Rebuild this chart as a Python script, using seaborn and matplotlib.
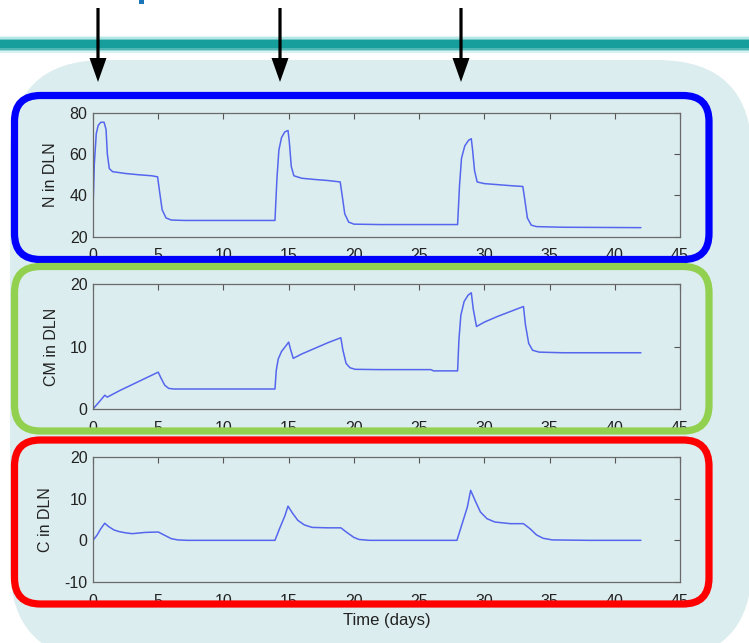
import numpy as np
import pandas as pd
import matplotlib
matplotlib.use("Agg")
import matplotlib.pyplot as plt
from matplotlib.patches import FancyBboxPatch, Rectangle, FancyArrow
import seaborn as sns

# ---------------- data ----------------
t_n = [0, 0.1, 0.25, 0.4, 0.6, 0.85, 1.0, 1.1, 1.25, 1.5, 2.5, 3.5, 4.5, 4.95, 5.1, 5.3,
       5.6, 6.0, 7, 10, 13.95, 14.1, 14.25, 14.45, 14.7, 14.95, 15.05, 15.2, 15.4, 16, 17,
       18, 18.95, 19.1, 19.3, 19.6, 20.0, 22, 25, 27.95, 28.1, 28.25, 28.5, 28.8, 29.0,
       29.1, 29.25, 29.45, 30, 31, 32, 32.95, 33.1, 33.3, 33.6, 34.0, 36, 39, 42]
n_dln = [33, 55, 70, 74, 75.5, 75.5, 72, 60, 53, 51.5, 50.6, 50.0, 49.5, 49, 42, 33,
         29, 28, 27.8, 27.8, 27.8, 48, 62, 68, 70.8, 71.5, 66, 54, 49.5, 48.3, 47.7,
         47.2, 46.5, 40, 31, 27, 26, 25.8, 25.8, 25.8, 45, 58, 64, 66.8, 67.5, 62, 52,
         46.5, 45.7, 45.2, 44.7, 44.3, 38, 29, 25.5, 24.8, 24.5, 24.4, 24.3]

t_cm = [0, 0.5, 0.9, 1.1, 2, 3, 4, 5.0, 5.2, 5.5, 5.8, 6.2, 8, 11, 13.95, 14.05, 14.2,
        14.45, 14.75, 15.0, 15.15, 15.35, 16, 17, 18, 19.0, 19.15, 19.4, 19.7, 20.1, 22,
        25.9, 26.1, 27.95, 28.05, 28.2, 28.45, 28.75, 29.0, 29.15, 29.4, 30, 31, 32,
        33.0, 33.15, 33.4, 33.7, 34.2, 36, 39, 42]
cm_dln = [0, 1.2, 2.2, 1.9, 2.9, 3.9, 4.9, 5.9, 5.0, 3.8, 3.3, 3.2, 3.2, 3.2, 3.2, 6.2,
          8.0, 9.2, 10.0, 10.7, 9.5, 8.1, 8.8, 9.7, 10.6, 11.4, 9.5, 7.3, 6.6, 6.35,
          6.3, 6.3, 6.1, 6.1, 11, 15, 17.2, 18.2, 18.6, 16, 13.2, 13.9, 14.8, 15.6,
          16.4, 13.5, 10.5, 9.4, 9.1, 9.0, 9.0, 9.0]

t_c = [0, 0.3, 0.6, 0.9, 1.2, 1.6, 2.0, 2.5, 3, 4, 5.0, 5.5, 6.0, 6.5, 7.2, 10, 13.95,
       14.3, 14.7, 14.95, 15.3, 15.7, 16.2, 16.8, 18, 19.0, 19.5, 20.0, 20.4, 21.2, 25,
       27.9, 28.3, 28.7, 28.95, 29.3, 29.7, 30.2, 30.8, 32, 33.0, 33.5, 34.0, 34.5,
       35.2, 38, 42]
c_dln = [0, 1.2, 2.8, 4.1, 3.3, 2.5, 2.1, 1.8, 1.6, 1.9, 2.0, 1.2, 0.4, 0.1, 0.0, 0, 0,
         2.8, 5.8, 8.2, 6.5, 4.8, 3.7, 3.1, 3.0, 3.0, 1.8, 0.7, 0.2, 0.0, 0, 0, 4, 8,
         12, 9.5, 6.8, 5.2, 4.4, 4.0, 4.0, 2.8, 1.3, 0.5, 0.1, 0, 0]

x_ticks = [0, 5, 10, 15, 20, 25, 30, 35, 40, 45]
panels = [
    ("N in DLN", t_n, n_dln, (20, 80), [20, 40, 60, 80]),
    ("CM in DLN", t_cm, cm_dln, (0, 20), [0, 10, 20]),
    ("C in DLN", t_c, c_dln, (-10, 20), [-10, 0, 10, 20]),
]

# ---------------- figure ----------------
sns.set_style("white")
plt.rcParams['font.family'] = ['Liberation Sans', 'DejaVu Sans']
plt.rcParams['axes.unicode_minus'] = False

W, H = 749, 643
fig = plt.figure(figsize=(W / 100, H / 100), dpi=100, facecolor="white")

# background decoration axes (pixel coordinates)
bg = fig.add_axes([0, 0, 1, 1], zorder=-10)
bg.set_xlim(0, W)
bg.set_ylim(H, 0)
bg.axis("off")
# teal bar with vertical gradient
bar_rows = [(35.5, 1.5, "#e2f6f6"), (37, 1.5, "#b4e6e6"), (38.5, 1.5, "#6cc8c6"),
            (40, 8, "#159e9c"), (48, 1.5, "#4fb6b4"), (49.5, 1.5, "#9ad8d6"),
            (51, 1.5, "#d8f2f2")]
for y0, hh, c in bar_rows:
    bg.add_patch(Rectangle((0, y0), W, hh + 0.1, color=c, lw=0))
# small fragment of title text at very top
bg.add_patch(Rectangle((139, 0), 5, 4, color="#1b75b8", lw=0))
# big light rounded panel
bg.add_patch(FancyBboxPatch((10, 60), 742, 600,
                            boxstyle="round,pad=0,rounding_size=95",
                            fc="#dcedef", ec="none"))

# plot axes
left, width = 93 / W, (680 - 93) / W
tops = [113, 284, 457]
bots = [236.5, 409, 582]
line_color = "#5566ee"
axes = []
for (ylab, tt, vv, ylim, yticks), tp, bt in zip(panels, tops, bots):
    ax = fig.add_axes([left, 1 - bt / H, width, (bt - tp) / H])
    ax.set_facecolor("none")
    df = pd.DataFrame({"t": tt, "v": vv})
    sns.lineplot(data=df, x="t", y="v", ax=ax, color=line_color, lw=1.1)
    ax.set_xlim(0, 45)
    ax.set_ylim(*ylim)
    ax.set_xticks(x_ticks)
    ax.set_yticks(yticks)
    ax.set_xlabel("")
    ax.set_ylabel(ylab, fontsize=11.5, color="#222222", labelpad=8)
    ax.tick_params(direction="in", top=True, right=True, length=4, width=0.8,
                   colors="#555555", labelcolor="#222222", labelsize=11.5)
    ax.tick_params(axis="x", pad=8.5)
    ax.tick_params(axis="y", pad=4)
    for s in ax.spines.values():
        s.set_color("#6a6a6a")
        s.set_linewidth(0.9)
    axes.append(ax)
axes[-1].set_xlabel("Time (days)", fontsize=12, color="#222222")
axes[-1].xaxis.set_label_coords(0.5, -0.25)

# foreground decoration axes: colored rounded boxes and arrows
fg = fig.add_axes([0, 0, 1, 1], zorder=10)
fg.set_xlim(0, W)
fg.set_ylim(H, 0)
fg.axis("off")
fg.patch.set_alpha(0)
boxes = [("#0000ff", 95.5, 259.5), ("#92d050", 266.5, 431), ("#ff0000", 440, 604)]
for col, ytop, ybot in boxes:
    fg.add_patch(FancyBboxPatch((14.5, ytop), 709 - 14.5, ybot - ytop,
                                boxstyle="round,pad=0,rounding_size=26",
                                fc="none", ec=col, lw=5.2))
for xa in [98, 280, 461]:
    fg.add_patch(FancyArrow(xa, 8, 0, 74, width=3.2, head_width=17, head_length=24,
                            length_includes_head=True, color="black", lw=0))

fig.savefig("out.png", dpi=100, facecolor="white")
